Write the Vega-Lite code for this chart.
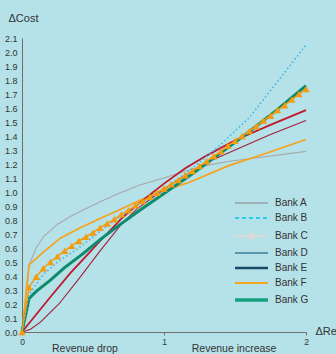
{
  "$schema": "https://vega.github.io/schema/vega-lite/v6.json",
  "width": 284,
  "height": 294,
  "autosize": {"type": "none"},
  "padding": {"left": 22, "top": 38, "right": 30, "bottom": 22},
  "background": "#b5e1e8",
  "config": {
    "view": {"stroke": null},
    "font": "Liberation Sans Narrow, Liberation Sans, Arial, sans-serif",
    "axis": {"labelFont": "Liberation Sans Narrow, Liberation Sans, Arial, sans-serif", "titleFont": "Liberation Sans, Arial, sans-serif"},
    "legend": {"labelFont": "Liberation Sans, Arial, sans-serif"}
  },
  "data": {
    "values": [
      {"bank": "Bank A", "x": 0, "y": 0}, {"bank": "Bank A", "x": 0.05, "y": 0.48}, {"bank": "Bank A", "x": 0.1, "y": 0.6}, {"bank": "Bank A", "x": 0.15, "y": 0.68}, {"bank": "Bank A", "x": 0.25, "y": 0.77}, {"bank": "Bank A", "x": 0.35, "y": 0.83}, {"bank": "Bank A", "x": 0.45, "y": 0.88}, {"bank": "Bank A", "x": 0.55, "y": 0.93}, {"bank": "Bank A", "x": 0.68, "y": 0.99}, {"bank": "Bank A", "x": 0.83, "y": 1.05}, {"bank": "Bank A", "x": 1.0, "y": 1.1}, {"bank": "Bank A", "x": 1.15, "y": 1.15}, {"bank": "Bank A", "x": 1.3, "y": 1.19}, {"bank": "Bank A", "x": 1.46, "y": 1.22}, {"bank": "Bank A", "x": 1.7, "y": 1.25}, {"bank": "Bank A", "x": 2.0, "y": 1.29},
      {"bank": "Bank B", "x": 0, "y": 0}, {"bank": "Bank B", "x": 0.05, "y": 0.27}, {"bank": "Bank B", "x": 0.1, "y": 0.34}, {"bank": "Bank B", "x": 0.15, "y": 0.41}, {"bank": "Bank B", "x": 0.25, "y": 0.5}, {"bank": "Bank B", "x": 0.4, "y": 0.6}, {"bank": "Bank B", "x": 0.6, "y": 0.76}, {"bank": "Bank B", "x": 0.8, "y": 0.9}, {"bank": "Bank B", "x": 1.0, "y": 1.02}, {"bank": "Bank B", "x": 1.2, "y": 1.17}, {"bank": "Bank B", "x": 1.4, "y": 1.34}, {"bank": "Bank B", "x": 1.6, "y": 1.53}, {"bank": "Bank B", "x": 1.8, "y": 1.79}, {"bank": "Bank B", "x": 2.0, "y": 2.05},
      {"bank": "Bank C", "x": 0, "y": 0}, {"bank": "Bank C", "x": 0.05, "y": 0.32}, {"bank": "Bank C", "x": 0.1, "y": 0.395}, {"bank": "Bank C", "x": 0.15, "y": 0.455}, {"bank": "Bank C", "x": 0.2, "y": 0.5}, {"bank": "Bank C", "x": 0.25, "y": 0.54}, {"bank": "Bank C", "x": 0.3, "y": 0.58}, {"bank": "Bank C", "x": 0.35, "y": 0.615}, {"bank": "Bank C", "x": 0.4, "y": 0.65}, {"bank": "Bank C", "x": 0.45, "y": 0.68}, {"bank": "Bank C", "x": 0.5, "y": 0.71}, {"bank": "Bank C", "x": 0.55, "y": 0.745}, {"bank": "Bank C", "x": 0.6, "y": 0.775}, {"bank": "Bank C", "x": 0.65, "y": 0.805}, {"bank": "Bank C", "x": 0.7, "y": 0.84}, {"bank": "Bank C", "x": 0.75, "y": 0.87}, {"bank": "Bank C", "x": 0.8, "y": 0.905}, {"bank": "Bank C", "x": 0.85, "y": 0.935}, {"bank": "Bank C", "x": 0.9, "y": 0.965}, {"bank": "Bank C", "x": 0.95, "y": 0.995}, {"bank": "Bank C", "x": 1.0, "y": 1.025}, {"bank": "Bank C", "x": 1.05, "y": 1.055}, {"bank": "Bank C", "x": 1.1, "y": 1.085}, {"bank": "Bank C", "x": 1.15, "y": 1.12}, {"bank": "Bank C", "x": 1.2, "y": 1.15}, {"bank": "Bank C", "x": 1.25, "y": 1.185}, {"bank": "Bank C", "x": 1.3, "y": 1.22}, {"bank": "Bank C", "x": 1.35, "y": 1.255}, {"bank": "Bank C", "x": 1.4, "y": 1.29}, {"bank": "Bank C", "x": 1.45, "y": 1.33}, {"bank": "Bank C", "x": 1.5, "y": 1.365}, {"bank": "Bank C", "x": 1.55, "y": 1.4}, {"bank": "Bank C", "x": 1.6, "y": 1.435}, {"bank": "Bank C", "x": 1.65, "y": 1.47}, {"bank": "Bank C", "x": 1.7, "y": 1.51}, {"bank": "Bank C", "x": 1.75, "y": 1.545}, {"bank": "Bank C", "x": 1.8, "y": 1.585}, {"bank": "Bank C", "x": 1.85, "y": 1.62}, {"bank": "Bank C", "x": 1.9, "y": 1.66}, {"bank": "Bank C", "x": 1.95, "y": 1.7}, {"bank": "Bank C", "x": 2.0, "y": 1.735},
      {"bank": "Bank D", "x": 0, "y": 0}, {"bank": "Bank D", "x": 0.08, "y": 0.1}, {"bank": "Bank D", "x": 0.2, "y": 0.25}, {"bank": "Bank D", "x": 0.34, "y": 0.42}, {"bank": "Bank D", "x": 0.45, "y": 0.54}, {"bank": "Bank D", "x": 0.55, "y": 0.65}, {"bank": "Bank D", "x": 0.7, "y": 0.81}, {"bank": "Bank D", "x": 0.8, "y": 0.9}, {"bank": "Bank D", "x": 1.0, "y": 1.06}, {"bank": "Bank D", "x": 1.15, "y": 1.17}, {"bank": "Bank D", "x": 1.3, "y": 1.26}, {"bank": "Bank D", "x": 1.5, "y": 1.37}, {"bank": "Bank D", "x": 1.75, "y": 1.48}, {"bank": "Bank D", "x": 2.0, "y": 1.585},
      {"bank": "Bank E", "x": 0, "y": 0}, {"bank": "Bank E", "x": 0.06, "y": 0.02}, {"bank": "Bank E", "x": 0.13, "y": 0.07}, {"bank": "Bank E", "x": 0.26, "y": 0.2}, {"bank": "Bank E", "x": 0.4, "y": 0.38}, {"bank": "Bank E", "x": 0.55, "y": 0.58}, {"bank": "Bank E", "x": 0.7, "y": 0.77}, {"bank": "Bank E", "x": 0.81, "y": 0.88}, {"bank": "Bank E", "x": 1.0, "y": 1.02}, {"bank": "Bank E", "x": 1.15, "y": 1.12}, {"bank": "Bank E", "x": 1.32, "y": 1.22}, {"bank": "Bank E", "x": 1.5, "y": 1.3}, {"bank": "Bank E", "x": 1.75, "y": 1.41}, {"bank": "Bank E", "x": 2.0, "y": 1.51},
      {"bank": "Bank F", "x": 0, "y": 0}, {"bank": "Bank F", "x": 0.05, "y": 0.48}, {"bank": "Bank F", "x": 0.15, "y": 0.57}, {"bank": "Bank F", "x": 0.27, "y": 0.67}, {"bank": "Bank F", "x": 0.4, "y": 0.74}, {"bank": "Bank F", "x": 0.55, "y": 0.81}, {"bank": "Bank F", "x": 0.68, "y": 0.87}, {"bank": "Bank F", "x": 0.83, "y": 0.94}, {"bank": "Bank F", "x": 1.0, "y": 1.01}, {"bank": "Bank F", "x": 1.18, "y": 1.07}, {"bank": "Bank F", "x": 1.46, "y": 1.19}, {"bank": "Bank F", "x": 1.7, "y": 1.27}, {"bank": "Bank F", "x": 2.0, "y": 1.375},
      {"bank": "Bank G", "x": 0, "y": 0}, {"bank": "Bank G", "x": 0.05, "y": 0.24}, {"bank": "Bank G", "x": 0.1, "y": 0.29}, {"bank": "Bank G", "x": 0.2, "y": 0.37}, {"bank": "Bank G", "x": 0.3, "y": 0.46}, {"bank": "Bank G", "x": 0.43, "y": 0.56}, {"bank": "Bank G", "x": 0.55, "y": 0.66}, {"bank": "Bank G", "x": 0.68, "y": 0.76}, {"bank": "Bank G", "x": 0.83, "y": 0.87}, {"bank": "Bank G", "x": 1.0, "y": 0.99}, {"bank": "Bank G", "x": 1.2, "y": 1.13}, {"bank": "Bank G", "x": 1.4, "y": 1.28}, {"bank": "Bank G", "x": 1.6, "y": 1.43}, {"bank": "Bank G", "x": 1.8, "y": 1.59}, {"bank": "Bank G", "x": 2.0, "y": 1.76}
    ]
  },
  "encoding": {
    "x": {
      "field": "x", "type": "quantitative",
      "scale": {"domain": [0, 2], "nice": false, "zero": false},
      "axis": {
        "values": [0, 0.44, 1, 1.49, 2],
        "labelExpr": "datum.value > 0.3 && datum.value < 0.6 ? 'Revenue drop' : (datum.value > 1.3 && datum.value < 1.7 ? 'Revenue increase' : format(datum.value, 'd'))",
        "labelFlush": false,
        "labelOverlap": false,
        "grid": false,
        "domainColor": "#6e6e6e",
        "tickColor": {"condition": {"test": "datum.value % 1 != 0", "value": "transparent"}, "value": "#6e6e6e"},
        "tickSize": 3,
        "labelColor": "#333333",
        "labelFontSize": {"condition": {"test": "datum.value % 1 != 0", "value": 10.5}, "value": 8.5},
        "labelFont": {"condition": {"test": "datum.value % 1 != 0", "value": "Liberation Sans, Arial, sans-serif"}, "value": "Liberation Sans Narrow, Liberation Sans, Arial, sans-serif"},
        "labelPadding": {"condition": {"test": "datum.value % 1 != 0", "value": 8}, "value": 2},
        "title": "ΔRevenue",
        "titleFontSize": 11,
        "titleFontWeight": "normal",
        "titleColor": "#333333",
        "titleAngle": 0,
        "titleAlign": "left",
        "titleBaseline": "middle",
        "titleX": 293,
        "titleY": -1
      }
    },
    "y": {
      "field": "y", "type": "quantitative",
      "scale": {"domain": [0, 2.1], "nice": false},
      "axis": {
        "values": [0, 0.1, 0.2, 0.3, 0.4, 0.5, 0.6, 0.7, 0.8, 0.9, 1.0, 1.1, 1.2, 1.3, 1.4, 1.5, 1.6, 1.7, 1.8, 1.9, 2.0, 2.1],
        "format": ".1f",
        "grid": false,
        "ticks": false,
        "domainColor": "#6e6e6e",
        "labelColor": "#333333",
        "labelFontSize": 9,
        "labelPadding": 5,
        "title": "ΔCost",
        "titleFontSize": 11,
        "titleFontWeight": "normal",
        "titleColor": "#333333",
        "titleAngle": 0,
        "titleAlign": "left",
        "titleBaseline": "middle",
        "titleX": -14,
        "titleY": -20
      }
    }
  },
  "layer": [
    {
      "mark": {"type": "line", "opacity": 0},
      "encoding": {
        "color": {
          "field": "bank", "type": "nominal",
          "scale": {"domain": ["Bank A", "Bank B", "Bank C", "Bank D", "Bank E", "Bank F", "Bank G"], "range": ["#8c8282", "#2ccdf2", "#d9d9d9", "#5b97ab", "#194a66", "#f6a623", "#14a07e"]},
          "legend": {
            "orient": "none", "legendX": 213, "legendY": 160,
            "title": null,
            "symbolType": "stroke",
            "symbolSize": 1089,
            "symbolOpacity": 1,
            "labelFontSize": 10,
            "labelColor": "#333333",
            "rowPadding": 5,
            "encode": {
              "symbols": {
                "update": {
                  "x": {"value": 16.5},
                  "size": {"value": 1089},
                  "opacity": {"value": 1},
                  "strokeDash": {"signal": "datum.value === 'Bank B' ? [4, 3] : [1, 0]"},
                  "strokeWidth": {"signal": "datum.value === 'Bank G' ? 3.5 : (datum.value === 'Bank E' ? 2.5 : (datum.value === 'Bank A' ? 1.2 : 2))"},
                  "shape": {"signal": "datum.value === 'Bank C' ? 'M-1,0H1M0,-0.22L0.2,0.14L-0.2,0.14Z' : 'stroke'"},
                  "fill": {"signal": "datum.value === 'Bank C' ? '#d4d4d4' : 'transparent'"}
                }
              },
              "labels": {
                "update": {
                  "x": {"value": 40}
                }
              }
            }
          }
        }
      }
    },
    {"transform": [{"filter": "datum.bank === 'Bank A'"}], "mark": {"type": "line", "color": "#a8a8a8", "strokeWidth": 1.1}},
    {"transform": [{"filter": "datum.bank === 'Bank F'"}], "mark": {"type": "line", "color": "#f7a21b", "strokeWidth": 1.7}},
    {"transform": [{"filter": "datum.bank === 'Bank E'"}], "mark": {"type": "line", "color": "#a31f3a", "strokeWidth": 1.1}},
    {"transform": [{"filter": "datum.bank === 'Bank D'"}], "mark": {"type": "line", "color": "#c0182c", "strokeWidth": 1.8}},
    {"transform": [{"filter": "datum.bank === 'Bank G'"}], "mark": {"type": "line", "color": "#0c8c6c", "strokeWidth": 3}},
    {"transform": [{"filter": "datum.bank === 'Bank B'"}], "mark": {"type": "line", "color": "#3cb6ea", "strokeWidth": 1.6, "strokeDash": [1.5, 2.5]}},
    {"transform": [{"filter": "datum.bank === 'Bank C'"}], "mark": {"type": "line", "color": "#f39c12", "strokeWidth": 1.5}},
    {"transform": [{"filter": "datum.bank === 'Bank C'"}], "mark": {"type": "point", "shape": "triangle-up", "filled": true, "color": "#f39c12", "opacity": 1, "size": 55}}
  ]
}
